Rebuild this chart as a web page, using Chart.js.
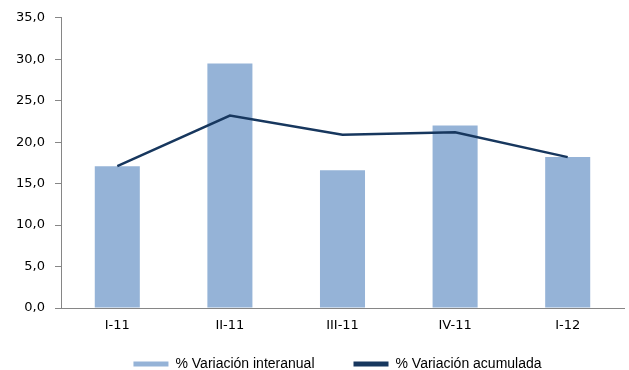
<!DOCTYPE html>
<html>
<head>
<meta charset="utf-8">
<script src="https://cdn.jsdelivr.net/npm/chart.js@4"></script>
<style>
  html, body { margin: 0; padding: 0; background: #fff; }
  #wrap { width: 629px; height: 370px; }
</style>
</head>
<body>
<div id="wrap"><canvas id="chart"></canvas></div>
<script>
const categories = ['I-11', 'II-11', 'III-11', 'IV-11', 'I-12'];
const interanual = [17.1, 29.5, 16.6, 22.0, 18.2];
const acumulada = [17.1, 23.2, 20.9, 21.2, 18.2];

// the legend items are spaced wide apart, but the legend row itself is short
const legendBox = {
  id: 'legendBox',
  afterInit(chart) {
    const lg = chart.legend;
    const fit = lg.fit.bind(lg);
    lg.fit = function() { fit(); this.height = 26; };
  },
  afterLayout(chart) {
    const lg = chart.legend;
    lg.top = 318;
    lg.bottom = 370;
    lg.height = 52;
    lg.left -= 5;
    lg.right -= 5;
  }
};

document.addEventListener('DOMContentLoaded', function() {
  const ctx = document.getElementById('chart').getContext('2d');
  new Chart(ctx, {
    type: 'bar',
    data: {
      labels: categories,
      datasets: [{
        type: 'bar',
        label: '% Variación interanual',
        data: interanual,
        backgroundColor: '#95B3D7',
        borderWidth: 0,
        barPercentage: 0.4,
        categoryPercentage: 1,
        order: 2
      }, {
        type: 'line',
        label: '% Variación acumulada',
        data: acumulada,
        borderColor: '#17375E',
        backgroundColor: '#17375E',
        borderWidth: 2.5,
        pointRadius: 0,
        tension: 0,
        order: 1
      }]
    },
    plugins: [legendBox],
    options: {
      responsive: true,
      maintainAspectRatio: false,
      animation: false,
      layout: { padding: { top: 10, right: 5, left: 0, bottom: 0 } },
      plugins: {
        tooltip: { enabled: false },
        legend: {
          position: 'bottom',
          fullSize: false,
          labels: {
            boxWidth: 35,
            boxHeight: 5,
            padding: 39,
            color: '#000',
            font: { family: 'Liberation Sans', size: 14 },
            sort: (a, b) => a.datasetIndex - b.datasetIndex,
            generateLabels: function(chart) {
              const items = Chart.defaults.plugins.legend.labels.generateLabels(chart);
              items.forEach(it => { it.lineWidth = 0; });
              return items;
            }
          }
        }
      },
      scales: {
        x: {
          grid: { display: false, drawTicks: false },
          border: { color: '#868686', width: 1 },
          ticks: { color: '#000', padding: 10, font: { family: 'DejaVu Sans', size: 13 } },
          afterFit: function(scale) { scale.height = 36; }
        },
        y: {
          min: 0,
          max: 35,
          ticks: {
            stepSize: 5,
            color: '#000',
            padding: 10,
            font: { family: 'DejaVu Sans', size: 13 },
            callback: v => v.toFixed(1).replace('.', ',')
          },
          grid: { drawOnChartArea: false, tickLength: 6, color: '#868686' },
          border: { color: '#868686', width: 1 },
          afterFit: function(scale) { scale.width = 61; }
        }
      }
    }
  });
});
</script>
</body>
</html>
